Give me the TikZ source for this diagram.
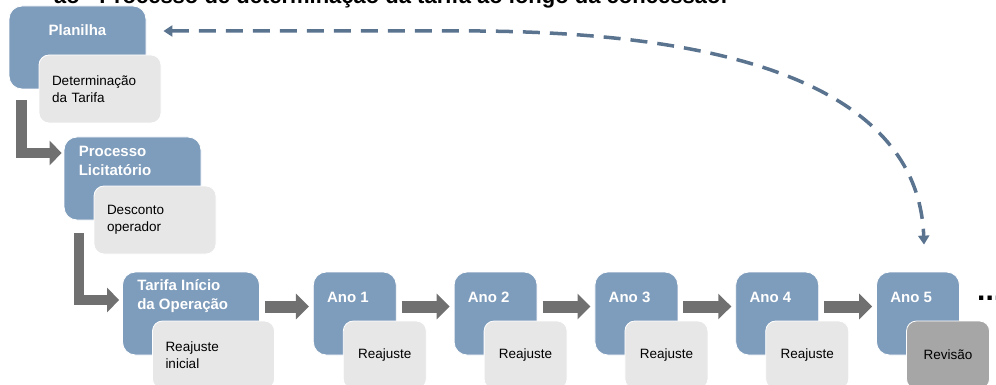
\documentclass[tikz,border=0pt]{standalone}
\usepackage{fontspec}
\setmainfont{Liberation Sans}
\usetikzlibrary
  {
    arrows.meta,              % Triangle arrow heads
    positioning,              % place nodes relative to other nodes
    calc,
  }

\definecolor{stageblue}{RGB}{126,156,187}
\definecolor{notegray}{RGB}{231,231,231}
\definecolor{revgray}{RGB}{166,166,166}
\definecolor{flowgray}{RGB}{112,112,112}
\definecolor{backblue}{RGB}{90,115,143}

\begin{document}
\begin{tikzpicture}
    [
      x=1pt, y=-1pt,
      stage/.style=
        {
          rectangle,
          rounded corners=13pt,
          fill=stageblue,
          draw=white,
          line width=0.8pt,
          inner sep=0pt,
          minimum width=137pt,
          minimum height=83pt,
        },
      yearbox/.style=
        {
          stage,
          minimum width=83pt,
        },
      stagetext/.style=
        {
          anchor=west,
          inner sep=0pt,
          align=left,
          text=white,
          font=\fontsize{15}{19}\selectfont\bfseries,
        },
      note/.style=
        {
          rectangle,
          anchor=north west,
          rounded corners=10pt,
          fill=notegray,
          draw=white,
          line width=0.8pt,
          minimum width=122pt,
          minimum height=68pt,
          text width=96pt,
          inner xsep=13pt,
          inner ysep=0pt,
          align=left,
          font=\fontsize{13.5}{17}\selectfont,
        },
      yearnote/.style=
        {
          note,
          minimum width=83pt,
          text width=57pt,
          align=center,
        },
      elbow/.style={-{Triangle[width=24pt,length=12pt]}, draw=flowgray, line width=10.5pt},
      stepflow/.style={-{Triangle[width=25pt,length=13pt]}, draw=flowgray, line width=12pt,
                       shorten <=5pt, shorten >=4pt},
      feedback/.style={{Triangle[width=11pt,length=9pt]}-{Triangle[width=11pt,length=9pt]},
                       draw=backblue, line width=3.5pt, dash pattern=on 17pt off 10pt},
      node distance=57pt,
    ]
    \useasboundingbox (0,0) rectangle (996,385);
    \clip (0,0) rectangle (996,385);

    \node[anchor=base east, inner sep=0pt, font=\fontsize{22}{22}\selectfont\bfseries]
      (title) at (728,4) {ão - Processo de determinação da tarifa ao longo da concessão:};

    % stair of the first three stages
    \node[stage]   (plan)   at (77.5,47.5)  {};
    \node[stage]   (proc)   at (132.5,178.5) {};
    \node[stage]   (tarifa) at (191,313.5)  {};

    % one box a year
    \node[yearbox] (ano1) [right=53pt of tarifa] {};
    \node[yearbox] (ano2) [right=of ano1]        {};
    \node[yearbox] (ano3) [right=of ano2]        {};
    \node[yearbox] (ano4) [right=of ano3]        {};
    \node[yearbox] (ano5) [right=of ano4]        {};

    \node[stagetext, anchor=center] (plantext) at ([yshift=-24.5pt]plan.north) {Planilha};
    \node[stagetext] (proctext)   at ([shift={(15pt,-24.5pt)}]proc.north west)   {Processo\\Licitatório};
    \node[stagetext] (tarifatext) at ([shift={(15pt,-24.5pt)}]tarifa.north west) {Tarifa Início\\da Operação};
    \node[stagetext] (ano1text)   at ([shift={(14pt,-25.5pt)}]ano1.north west)   {Ano 1};
    \node[stagetext] (ano2text)   at ([shift={(14pt,-25.5pt)}]ano2.north west)   {Ano 2};
    \node[stagetext] (ano3text)   at ([shift={(14pt,-25.5pt)}]ano3.north west)   {Ano 3};
    \node[stagetext] (ano4text)   at ([shift={(14pt,-25.5pt)}]ano4.north west)   {Ano 4};
    \node[stagetext] (ano5text)   at ([shift={(14pt,-25.5pt)}]ano5.north west)   {Ano 5};

    \node[note]     (plannote)   at ([shift={(30pt,-49pt)}]plan.north west)   {Determinação\\da Tarifa};
    \node[note]     (procnote)   at ([shift={(30pt,-49pt)}]proc.north west)   {Desconto\\operador};
    \node[note]     (tarifanote) at ([shift={(30pt,-49pt)}]tarifa.north west) {Reajuste\\inicial};
    \node[yearnote] (ano1note)   at ([shift={(30pt,-49pt)}]ano1.north west)   {Reajuste};
    \node[yearnote] (ano2note)   at ([shift={(30pt,-49pt)}]ano2.north west)   {Reajuste};
    \node[yearnote] (ano3note)   at ([shift={(30pt,-49pt)}]ano3.north west)   {Reajuste};
    \node[yearnote] (ano4note)   at ([shift={(30pt,-49pt)}]ano4.north west)   {Reajuste};
    \node[yearnote, fill=revgray] (ano5note) at ([shift={(30pt,-49pt)}]ano5.north west) {Revisão};

    \node[anchor=base west, inner sep=0pt, font=\fontsize{30}{30}\selectfont\bfseries]
      (more) at (977,300) {...};

    % gray arrows
    \draw[elbow] ([shift={(13pt,-11pt)}]plan.south west) |- ([shift={(-2pt,25.5pt)}]proc.west);
    \draw[elbow] ([shift={(15.5pt,-13pt)}]proc.south west) |- ([shift={(-3pt,13.5pt)}]tarifa.west);
    \draw[stepflow] ([yshift=7pt]tarifa.east) -- ([yshift=7pt]ano1.west);
    \draw[stepflow] ([yshift=7pt]ano1.east) -- ([yshift=7pt]ano2.west);
    \draw[stepflow] ([yshift=7pt]ano2.east) -- ([yshift=7pt]ano3.west);
    \draw[stepflow] ([yshift=7pt]ano3.east) -- ([yshift=7pt]ano4.west);
    \draw[stepflow] ([yshift=7pt]ano4.east) -- ([yshift=7pt]ano5.west);

    % revision leads back to the spreadsheet
    \coordinate (backleft) at ([shift={(17pt,16.5pt)}]plan.east);
    \coordinate (backdown) at ([shift={(6pt,27pt)}]ano5.north);
    \draw[feedback] (backleft) -- (480,31) .. controls (820,34) and (920,130) .. (backdown);
  \end{tikzpicture}
\end{document}
